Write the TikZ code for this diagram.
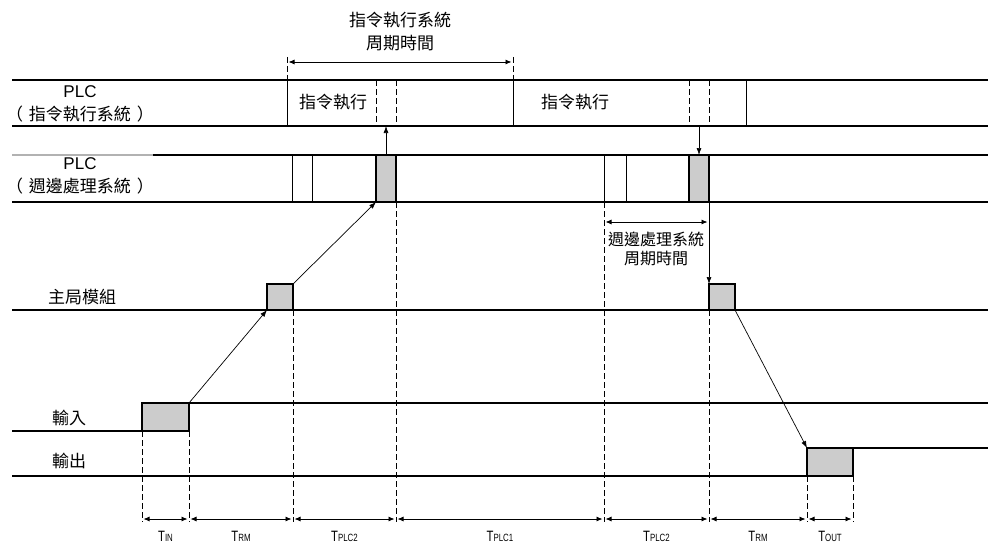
\documentclass[tikz,border=0pt]{standalone}
\usepackage{fontspec}
\setmainfont{Liberation Sans}
\newfontfamily\cjk{Noto Sans CJK TC}
\usetikzlibrary{arrows.meta}

\newcommand{\tlab}[1]{\scalebox{0.75}[1]{T{\fontsize{10.5}{10.5}\selectfont #1}}}
\newcommand{\pgap}{\hspace{6pt}}

\tikzset{
  sig/.style={line width=1.1pt},
  tick/.style={line width=0.9pt},
  guide/.style={line width=0.9pt, dash pattern=on 6pt off 3pt},
  gbox/.style={draw, line width=1.1pt, fill=gray!40, inner sep=0pt, outer sep=0pt, anchor=north west},
  dim/.style={{Latex[length=6pt,width=5pt]}-{Latex[length=6pt,width=5pt]}, line width=0.8pt, shorten <=1.5pt, shorten >=1.5pt},
  flow/.style={-{Latex[length=7pt,width=5pt]}, line width=0.7pt},
  lbl/.style={font=\cjk\fontsize{17}{23}\selectfont, align=center, inner sep=0pt},
  tlbl/.style={font=\fontsize{15}{15}\selectfont, inner sep=0pt}
}

\begin{document}
\begin{tikzpicture}[x=1pt, y=-1pt]
    \useasboundingbox (0,0) rectangle (988,543);

    % Zeilen / rows
    \draw[sig] (12,80) -- (988,80);
    \draw[sig] (12,126) -- (988,126);
    \draw[sig, gray!60] (12,155) -- (153,155);
    \draw[sig] (153,155) -- (988,155);
    \draw[sig] (12,202) -- (988,202);
    \draw[sig] (12,310) -- (988,310);

    % Boxes
    \node[gbox, minimum width=20pt, minimum height=47pt] (p1box) at (376,155) {};
    \node[gbox, minimum width=20pt, minimum height=47pt] (p2box) at (689,155) {};
    \node[gbox, minimum width=26pt, minimum height=26pt] (mbox1) at (267,284) {};
    \node[gbox, minimum width=26pt, minimum height=26pt] (mbox2) at (709,284) {};
    \node[gbox, minimum width=47pt, minimum height=28pt] (inbox) at (142,403) {};
    \node[gbox, minimum width=46pt, minimum height=28pt] (outbox) at (807,448) {};

    % Eingang / Ausgang
    \draw[sig] (12,431) -- (inbox.south west);
    \draw[sig] (inbox.north east) -- (988,403);
    \draw[sig] (12,476) -- (outbox.south west);
    \draw[sig] (outbox.north east) -- (988,448);

    % Teilungen
    \draw[tick] (287,80) -- (287,126);
    \draw[tick] (513,80) -- (513,126);
    \draw[tick] (746,80) -- (746,126);
    \draw[guide] (376,80) -- (376,126);
    \draw[guide] (396,80) -- (396,126);
    \draw[guide] (689,80) -- (689,126);
    \draw[guide] (709,80) -- (709,126);
    \draw[tick] (292,155) -- (292,202);
    \draw[tick] (312,155) -- (312,202);
    \draw[tick] (604,155) -- (604,202);
    \draw[tick] (626,155) -- (626,202);

    % Hilfslinien
    \draw[guide] (287,57) -- (287,80);
    \draw[guide] (513,57) -- (513,80);
    \draw[guide] (142,431) -- (142,522);
    \draw[guide] (189,431) -- (189,522);
    \draw[guide] (293,310) -- (293,522);
    \draw[guide] (396,202) -- (396,522);
    \draw[guide] (604,202) -- (604,522);
    \draw[guide] (709,310) -- (709,522);
    \draw[guide] (807,476) -- (807,522);
    \draw[guide] (853,476) -- (853,522);

    % Texte
    \node[lbl] (cyc1) at (400,32) {指令執行系統\\周期時間};
    \node[lbl] (exec1) at (333,102) {指令執行};
    \node[lbl] (exec2) at (575,102) {指令執行};
    \node[lbl, font=\cjk\fontsize{16}{19}\selectfont] (cyc2) at (656,249) {週邊處理系統\\周期時間};
    \node[lbl] (rowA) at (80,104) {\rmfamily PLC\\（\pgap 指令執行系統\pgap ）};
    \node[lbl] (rowB) at (80,176) {\rmfamily PLC\\（\pgap 週邊處理系統\pgap ）};
    \node[lbl] (rowC) at (82,297) {主局模組};
    \node[lbl] (rowD) at (69,418) {輸入};
    \node[lbl] (rowE) at (69,461) {輸出};

    % Fluss
    \coordinate (up1) at (386,126);
    \coordinate (dn1) at (699,126);
    \draw[flow] (inbox.north east) -- (mbox1.south west);
    \draw[flow] (mbox1.north east) -- (p1box.south west);
    \draw[flow] (p1box.north -| up1) -- (up1);
    \draw[flow] (dn1) -- (p2box.north -| dn1);
    \draw[flow] (p2box.south east) -- (mbox2.north west);
    \draw[flow] (mbox2.south east) -- (outbox.north west);

    % Zykluszeiten
    \coordinate (c1a) at (287,62);
    \coordinate (c1b) at (513,62);
    \coordinate (c2a) at (604,222);
    \coordinate (c2b) at (709,222);
    \draw[dim] (c1a) -- (c1b);
    \draw[dim] (c2a) -- (c2b);

    % Zeitabschnitte
    \coordinate (t0) at (142,519);
    \coordinate (t1) at (189,519);
    \coordinate (t2) at (293,519);
    \coordinate (t3) at (396,519);
    \coordinate (t4) at (604,519);
    \coordinate (t5) at (709,519);
    \coordinate (t6) at (807,519);
    \coordinate (t7) at (853,519);
    \draw[dim] (t0) -- (t1) node[tlbl, midway, yshift=-17pt] (tin) {\tlab{IN}};
    \draw[dim] (t1) -- (t2) node[tlbl, midway, yshift=-17pt] (trm1) {\tlab{RM}};
    \draw[dim] (t2) -- (t3) node[tlbl, midway, yshift=-17pt] (tplc2a) {\tlab{PLC2}};
    \draw[dim] (t3) -- (t4) node[tlbl, midway, yshift=-17pt] (tplc1) {\tlab{PLC1}};
    \draw[dim] (t4) -- (t5) node[tlbl, midway, yshift=-17pt] (tplc2b) {\tlab{PLC2}};
    \draw[dim] (t5) -- (t6) node[tlbl, midway, yshift=-17pt] (trm2) {\tlab{RM}};
    \draw[dim] (t6) -- (t7) node[tlbl, midway, yshift=-17pt] (tout) {\tlab{OUT}};
\end{tikzpicture}
\end{document}
